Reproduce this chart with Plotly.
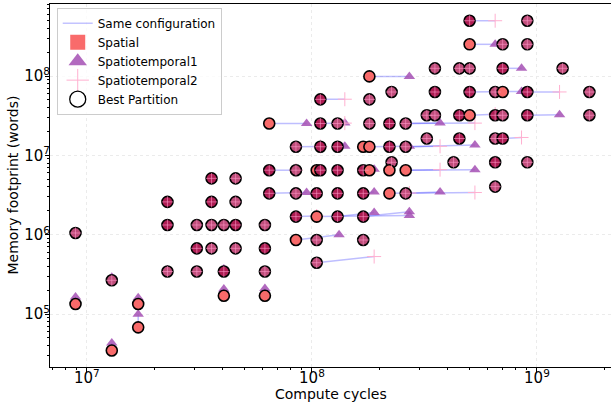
import plotly.graph_objects as go

# ---- Spatial partition results (compute cycles, memory words) ----
spatial_x = [
    5.02e8, 9.06e8,
    5.02e8, 7.04e8, 9.06e8,
    3.52e8, 4.52e8, 5.02e8, 7.04e8, 1.30e9,
    1.80e8,
    2.26e8, 3.52e8, 5.02e8, 6.52e8, 7.04e8, 9.06e8, 1.71e9,
    1.09e8, 1.80e8,
    3.24e8, 3.52e8, 4.52e8, 5.02e8, 6.52e8, 7.04e8, 9.06e8, 1.71e9,
    6.46e7, 1.09e8, 1.30e8, 1.80e8, 2.21e8, 2.61e8,
    3.24e8, 4.52e8, 6.52e8, 7.04e8,
    8.49e7, 1.09e8, 1.30e8, 1.69e8, 1.80e8, 2.21e8, 2.61e8,
    2.26e8, 4.26e8, 6.52e8, 9.06e8,
    6.46e7, 8.49e7, 1.05e8, 1.09e8, 1.30e8, 1.69e8, 1.80e8, 2.21e8, 2.61e8,
    3.58e7, 4.58e7,
    6.52e8,
    6.46e7, 8.49e7, 1.05e8, 1.30e8, 1.69e8, 2.21e8, 2.61e8,
    2.28e7, 3.58e7, 4.58e7,
    8.49e7, 1.05e8, 1.30e8, 1.69e8,
    2.28e7, 3.08e7, 3.58e7, 4.06e7, 4.58e7, 6.18e7,
    8.9e6,
    8.49e7, 1.05e8, 1.69e8,
    3.08e7, 3.58e7, 4.58e7, 6.18e7,
    1.05e8,
    2.28e7, 3.08e7, 4.06e7, 6.18e7,
    1.29e7,
    4.06e7, 6.18e7,
    8.9e6, 1.69e7,
    1.69e7,
    1.29e7,
]
spatial_y = [
    4.98e8, 4.98e8,
    2.51e8, 2.51e8, 2.51e8,
    1.25e8, 1.25e8, 1.25e8, 1.25e8, 1.25e8,
    9.9e7,
    6.29e7, 6.29e7, 6.29e7, 6.29e7, 6.29e7, 6.29e7, 6.29e7,
    5.08e7, 5.08e7,
    3.2e7, 3.2e7, 3.2e7, 3.2e7, 3.2e7, 3.2e7, 3.2e7, 3.2e7,
    2.52e7, 2.52e7, 2.52e7, 2.52e7, 2.52e7, 2.52e7,
    1.63e7, 1.63e7, 1.63e7, 1.63e7,
    1.285e7, 1.285e7, 1.285e7, 1.285e7, 1.285e7, 1.285e7, 1.285e7,
    8.17e6, 8.17e6, 8.17e6, 8.17e6,
    6.5e6, 6.5e6, 6.5e6, 6.5e6, 6.5e6, 6.5e6, 6.5e6, 6.5e6, 6.5e6,
    5.13e6, 5.13e6,
    4.04e6,
    3.32e6, 3.32e6, 3.32e6, 3.32e6, 3.32e6, 3.32e6, 3.32e6,
    2.59e6, 2.59e6, 2.59e6,
    1.69e6, 1.69e6, 1.69e6, 1.69e6,
    1.325e6, 1.325e6, 1.325e6, 1.325e6, 1.325e6, 1.325e6,
    1.05e6,
    8.57e5, 8.57e5, 8.57e5,
    6.73e5, 6.73e5, 6.73e5, 6.73e5,
    4.43e5,
    3.43e5, 3.43e5, 3.43e5, 3.43e5,
    2.66e5,
    1.70e5, 1.70e5,
    1.337e5, 1.337e5,
    6.79e4,
    3.47e4,
]
# best partition kind for each configuration: S = Spatial, T1 = Spatiotemporal1, T2 = Spatiotemporal2
best_kind = [
    "T1", "T2",
    "S", "T2", "T2",
    "T2", "T2", "T2", "T1", "T2",
    "S",
    "T2", "T1", "T1", "T2", "S", "T1", "T2",
    "T1", "T2",
    "T2", "T2", "T1", "S", "T1", "T2", "T1", "T2",
    "S", "T1", "T2", "T2", "T1", "T2",
    "T2", "T1", "T2", "T1",
    "T2", "T1", "T1", "S", "S", "T1", "T2",
    "T2", "T2", "T1", "T2",
    "T1", "T2", "S", "T1", "T1", "T1", "S", "S", "S",
    "T1", "T2",
    "T2",
    "T1", "T2", "T1", "T1", "T1", "S", "T2",
    "T1", "T1", "T2",
    "T1", "S", "T1", "T1",
    "T1", "T2", "T2", "T2", "T1", "T2",
    "T2",
    "S", "T2", "T2",
    "T1", "T2", "T2", "T1",
    "T2",
    "T2", "T2", "T1", "T2",
    "T2",
    "S", "S",
    "S", "S",
    "S",
    "S",
]

# ---- Spatiotemporal1 results that differ from the spatial one (source config index) ----
st1_src = [2, 8, 10, 13, 26, 28, 30, 33, 40, 42, 44, 55, 57, 61, 65, 67, 73, 74, 72, 82,
           94, 95, 96, 97, 98, 99, 100, 92, 90]
st1_x = [6.52e8, 8.54e8, 2.71e8, 8.54e8, 1.26e9, 9.47e7, 1.40e8, 3.71e8, 1.40e8, 2.71e8,
         5.30e8, 1.89e8, 5.30e8, 9.47e7, 1.89e8, 3.71e8, 1.89e8, 2.71e8, 2.71e8, 1.32e8,
         1.29e7, 4.06e7, 6.18e7, 8.9e6, 1.69e7, 1.69e7, 1.29e7, 4.06e7, 2.28e7]
st1_y = [2.51e8, 1.25e8, 9.9e7, 6.4e7, 3.25e7, 2.52e7, 2.55e7, 2.55e7, 1.3e7, 1.3e7,
         1.35e7, 6.7e6, 6.6e6, 3.4e6, 3.45e6, 3.45e6, 1.9e6, 1.95e6, 1.75e6, 1.0e6,
         2.9e5, 2.07e5, 2.1e5, 1.64e5, 1.6e5, 9.9e4, 4.3e4, 3.7e5, 3.6e5]

# ---- Spatiotemporal2 results that differ from the spatial one ----
st2_src = [0, 16, 18, 33, 37, 44, 57, 66, 67, 89, 23, 38, 49, 71, 29]
st2_x = [6.52e8, 1.26e9, 1.40e8, 5.30e8, 8.54e8, 3.71e8, 3.71e8, 2.71e8, 5.30e8, 1.89e8,
         6.52e8, 1.09e8, 8.49e7, 1.05e8, 1.40e8]
st2_y = [4.98e8, 6.3e7, 5.1e7, 2.55e7, 1.68e7, 1.3e7, 6.6e6, 3.35e6, 3.4e6, 5.3e5,
         3.3e7, 1.29e7, 6.5e6, 1.72e6, 2.55e7]

SAL = "#f96b6b"
PUR = "rgba(165,80,180,0.85)"
PINK = "#ffb0d0"
fill_map = {"S": "#f86a6a", "T1": "#ad1c52", "T2": "#bf4d7a"}

fig = go.Figure()

# connecting lines
lx, ly = [], []
for s, x, y in list(zip(st1_src, st1_x, st1_y)) + list(zip(st2_src, st2_x, st2_y)):
    lx += [spatial_x[s], x, None]
    ly += [spatial_y[s], y, None]
fig.add_trace(go.Scatter(x=lx, y=ly, mode="lines", line=dict(color="rgba(40,40,255,0.3)", width=1.5),
                         showlegend=False, hoverinfo="skip"))

fig.add_trace(go.Scatter(x=st1_x, y=st1_y, mode="markers", showlegend=False,
                         marker=dict(symbol="triangle-up", size=10, color=PUR, line=dict(width=0))))
fig.add_trace(go.Scatter(x=st2_x, y=st2_y, mode="markers", showlegend=False,
                         marker=dict(symbol="cross-thin", size=10, line=dict(color=PINK, width=1))))

fig.add_trace(go.Scatter(x=spatial_x, y=spatial_y, mode="markers", showlegend=False,
                         marker=dict(symbol="circle", size=11,
                                     color=[fill_map[k] for k in best_kind],
                                     line=dict(color="black", width=1.6))))
inner = [i for i, k in enumerate(best_kind) if k != "S"]
fig.add_trace(go.Scatter(x=[spatial_x[i] for i in inner], y=[spatial_y[i] for i in inner],
                         mode="markers", showlegend=False,
                         marker=dict(symbol="cross-thin", size=8, line=dict(color="rgba(255,150,200,0.6)", width=1))))

# legend proxies
fig.add_trace(go.Scatter(x=[None], y=[None], mode="lines", name="Same configuration",
                         line=dict(color="rgba(40,40,255,0.28)", width=1.5)))
fig.add_trace(go.Scatter(x=[None], y=[None], mode="markers", name="Spatial",
                         marker=dict(symbol="square", size=15, color=SAL)))
fig.add_trace(go.Scatter(x=[None], y=[None], mode="markers", name="Spatiotemporal1",
                         marker=dict(symbol="triangle-up", size=16, color=PUR)))
fig.add_trace(go.Scatter(x=[None], y=[None], mode="markers", name="Spatiotemporal2",
                         marker=dict(symbol="cross-thin", size=16, line=dict(color=PINK, width=1))))
fig.add_trace(go.Scatter(x=[None], y=[None], mode="markers", name="Best Partition",
                         marker=dict(symbol="circle-open", size=16, color="black", line=dict(width=1.3))))

axis_common = dict(type="log", showline=True, linecolor="black", linewidth=1.3,
                   ticks="outside", ticklen=3.5, tickcolor="black", dtick=1,
                   exponentformat="power", showexponent="all",
                   showgrid=True, gridcolor="#ebebeb", griddash="dot", gridwidth=0.8,
                   zeroline=False, tickfont=dict(family="DejaVu Sans", size=12, color="black"),
                   minor=dict(ticks="outside", ticklen=2, tickcolor="black", dtick="D1", showgrid=False))

fig.update_layout(
    width=611, height=403,
    margin=dict(l=50, r=0, t=4, b=36),
    paper_bgcolor="white", plot_bgcolor="white",
    font=dict(family="DejaVu Sans", size=13, color="black"),
    xaxis=dict(axis_common, range=[6.836, 9.329], mirror=True, ticklabelstandoff=-6),
    yaxis=dict(axis_common, range=[4.332, 8.908], ticklabelstandoff=-7),
    legend=dict(x=0.012, y=0.99, xanchor="left", yanchor="top", bgcolor="rgba(255,255,255,0.8)",
                bordercolor="#cccccc", borderwidth=1, font=dict(size=12), tracegroupgap=0,
                itemwidth=30),
    showlegend=True,
    annotations=[
        dict(text="Compute cycles", xref="paper", yref="paper", x=0.5, y=-0.074,
             xanchor="center", yanchor="middle", showarrow=False, font=dict(size=14)),
        dict(text="Memory footprint (words)", xref="paper", yref="paper", x=-0.0677, y=0.5,
             xanchor="center", yanchor="middle", textangle=-90, showarrow=False, font=dict(size=14)),
    ],
)

fig.write_html("out.html")
